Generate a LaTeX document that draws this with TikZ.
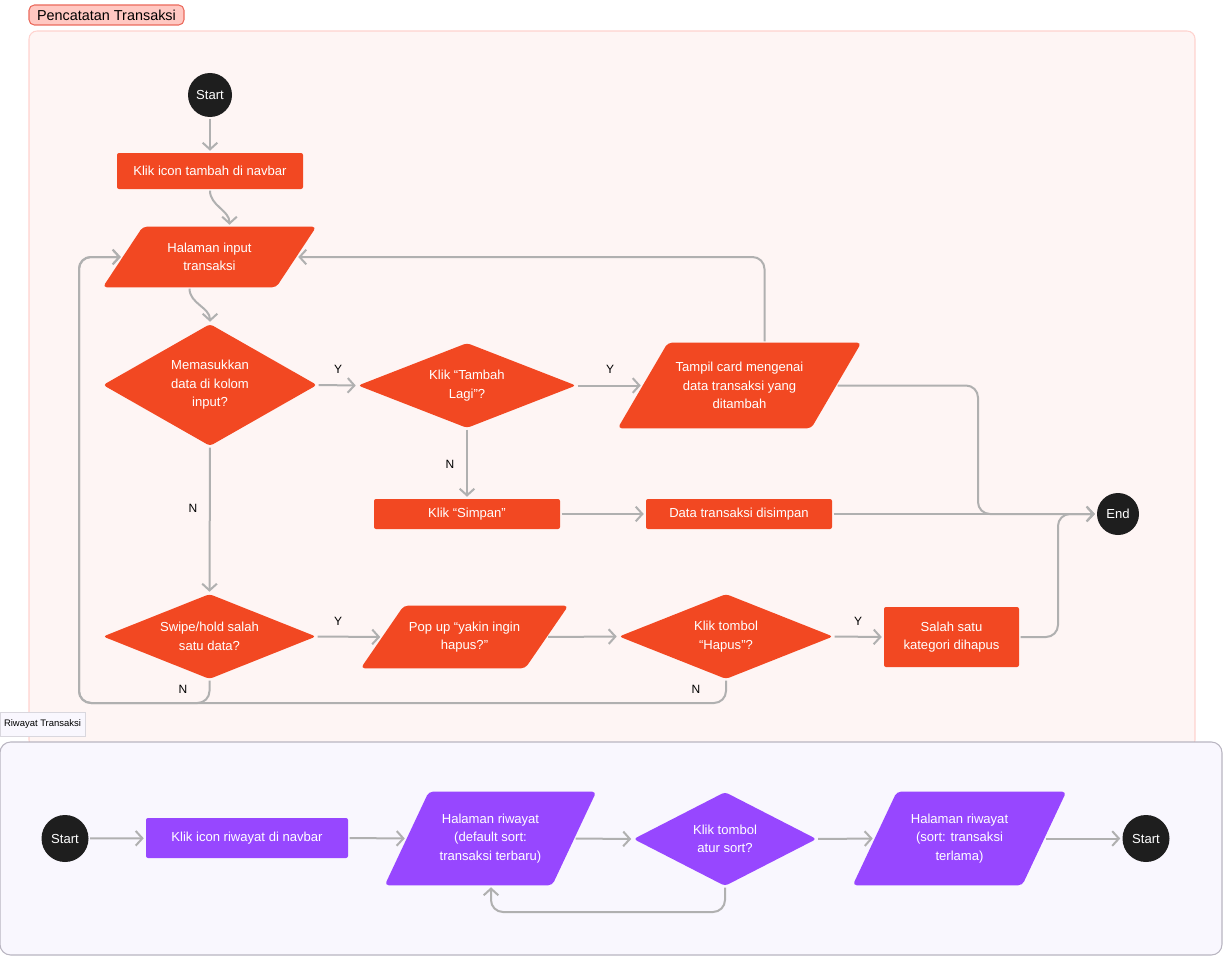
\documentclass[tikz,border=0pt]{standalone}
\usepackage{fontspec}
\setmainfont{Liberation Sans}
\usetikzlibrary{shapes.geometric,arrows.meta,calc}
\definecolor{ored}{HTML}{F24822}
\definecolor{purp}{HTML}{9747FF}
\definecolor{dark}{HTML}{1E1E1E}
\definecolor{cgray}{HTML}{B0B0B0}
\definecolor{pinkbg}{HTML}{FEF5F4}
\definecolor{pinkbd}{HTML}{FFD3CF}
\definecolor{tagfill}{HTML}{FFC8C2}
\definecolor{tagbd}{HTML}{EB6A5C}
\definecolor{lavbg}{HTML}{F9F7FE}
\definecolor{lavbd}{HTML}{B9B5C1}
\definecolor{tagbd2}{HTML}{D9D7DE}
\pgfdeclarelayer{frame}
\pgfdeclarelayer{bg}
\pgfsetlayers{frame,bg,main}
% parallelogram: name, cx, cy, total width, height, slant offset, colour, text
\newcommand\mypara[8]{%
  \node[base, sz={(#4-#6)}{#5}] (#1) at (#2,#3) {#8};
  \begin{pgfonlayer}{bg}
    \fill[#7, rounded corners=3pt] ($(#1.south west)+(-#6/2,0)$) -- ($(#1.north west)+(#6/2,0)$) -- ($(#1.north east)+(#6/2,0)$) -- ($(#1.south east)+(-#6/2,0)$) -- cycle;
  \end{pgfonlayer}
  \coordinate (#1-top) at ($(#1.north)+(#6/2,0)$);
  \coordinate (#1-bot) at ($(#1.south)+(-#6/2,0)$);
}
\begin{document}
\begin{tikzpicture}[x=0.75pt,y=-0.75pt,
  sz/.style 2 args={minimum width=#1*0.75pt, minimum height=#2*0.75pt},
  base/.style={font=\fontsize{9.8}{13.9}\selectfont, text=white, align=center, inner sep=0pt},
  proc/.style={base, rectangle, rounded corners=1.5pt},
  dec/.style={base, diamond, shape aspect=2.5, rounded corners=2.5pt},
  term/.style={base, circle, fill=dark},
  conn/.style={draw=cgray, line width=1.5pt, -{Straight Barb[length=5pt,width=11pt]}, rounded corners=9pt, shorten >=1.5pt, shorten <=1pt},
  lbl/.style={font=\fontsize{9}{10}\selectfont, text=black, inner sep=0pt}
]
\useasboundingbox (0,0) rectangle (1224,956);
% frames
\begin{pgfonlayer}{frame}
\draw[fill=pinkbg, draw=pinkbd, line width=0.8pt, rounded corners=6pt] (29,31) rectangle (1195,748);
\draw[fill=lavbg, draw=lavbd, line width=0.8pt, rounded corners=8pt] (0,742) rectangle (1222,955);
\end{pgfonlayer}
\node[draw=tagbd, fill=tagfill, line width=0.8pt, rounded corners=4pt, sz={155}{20}, inner sep=0pt, font=\fontsize{10.8}{12}\selectfont, text=black] (tag1) at (106.5,15) {Pencatatan Transaksi};
\node[draw=tagbd2, fill=lavbg, line width=0.6pt, sz={85}{24}, inner sep=0pt, font=\fontsize{7.1}{8}\selectfont, text=black] (tag2) at (42.5,724) {Riwayat Transaksi};

% top flow
\node[term, minimum size=44*0.75pt] (start) at (210,95) {Start};
\node[proc, fill=ored, sz={186}{36}] (klik) at (210,171) {Klik icon tambah di navbar};
\mypara{hal}{209.5}{257}{213}{60}{40}{ored}{Halaman input\\transaksi}
\node[dec, fill=ored, sz={214}{122}] (mem) at (210,385) {Memasukkan\\data di kolom\\input?};
\node[dec, fill=ored, sz={218}{85}] (tam) at (467,385.5) {Klik “Tambah\\Lagi”?};
\mypara{tampil}{739.5}{385.5}{243}{85}{50}{ored}{Tampil card mengenai\\data transaksi yang\\ditambah}
\node[proc, fill=ored, sz={186}{30}] (simpan) at (467,514) {Klik “Simpan”};
\node[proc, fill=ored, sz={186}{30}] (disimpan) at (739,514) {Data transaksi disimpan};
\node[term, minimum size=42*0.75pt] (endn) at (1118,514) {End};
\node[dec, fill=ored, sz={213}{85}] (swipe) at (209.5,636.5) {Swipe/hold salah\\satu data?};
\mypara{popup}{464.5}{637}{207}{62}{43}{ored}{Pop up “yakin ingin\\hapus?”}
\node[dec, fill=ored, sz={214}{85}] (hapus) at (726,636.5) {Klik tombol\\“Hapus”?};
\node[proc, fill=ored, sz={135}{60}] (salah) at (951.5,637) {Salah satu\\kategori dihapus};

\coordinate (w1) at (978,514);
\coordinate (w2) at (1058,514);
\coordinate (w3) at (79,703);

\draw[conn] (start) -- (klik);
\draw[conn] (klik.south) to[out=-90,in=90] (hal-top);
\draw[conn] (hal-bot) to[out=-90,in=90] (mem.north);
\draw[conn] (mem.east) -- (tam.west);
\draw[conn] (tam.east) -- (tampil.west);
\draw[conn] (tam.south) -- (simpan.north);
\draw[conn] (simpan.east) -- (disimpan.west);
\draw[conn] (disimpan.east) -- (endn.west);
\draw[conn] (tampil.east) -| (w1) -- (endn.west);
\draw[conn] (tampil-top) |- (hal.east);
\draw[conn] (mem.south) -- (swipe.north);
\draw[conn] (swipe.east) -- (popup.west);
\draw[conn] (popup.east) -- (hapus.west);
\draw[conn] (hapus.east) -- (salah.west);
\draw[conn] (salah.east) -| (w2) -- (endn.west);
\draw[conn] (hapus.south) |- (w3) |- (hal.west);
\draw[conn] (swipe.south) |- (w3) |- (hal.west);

\node[lbl] (ly1) at (338,369) {Y};
\node[lbl] (ly2) at (610,369) {Y};
\node[lbl] (ln1) at (450,464) {N};
\node[lbl] (ln2) at (193,508) {N};
\node[lbl] (ly3) at (338,621) {Y};
\node[lbl] (ln3) at (183,689) {N};
\node[lbl] (ly4) at (858,621) {Y};
\node[lbl] (ln4) at (696,689) {N};

% bottom flow
\node[term, minimum size=47*0.75pt] (s2) at (65,838.5) {Start};
\node[proc, fill=purp, sz={202}{40}] (kr) at (247,838) {Klik icon riwayat di navbar};
\mypara{hr1}{490.5}{838.5}{211}{93}{44}{purp}{Halaman riwayat\\(default sort:\\transaksi terbaru)}
\node[dec, fill=purp, sz={183}{94}] (atur) at (725,839) {Klik tombol\\atur sort?};
\mypara{hr2}{959.5}{838.5}{213}{93}{44}{purp}{Halaman riwayat\\(sort: transaksi\\terlama)}
\node[term, minimum size=47*0.75pt] (e2) at (1146,838.5) {Start};
\coordinate (w4) at (491,912);

\draw[conn] (s2) -- (kr);
\draw[conn] (kr.east) -- (hr1.west);
\draw[conn] (hr1.east) -- (atur.west);
\draw[conn] (atur.south) |- (w4) -- (hr1.south -| w4);
\draw[conn] (atur.east) -- (hr2.west);
\draw[conn] (hr2.east) -- (e2.west);
\end{tikzpicture}
\end{document}
